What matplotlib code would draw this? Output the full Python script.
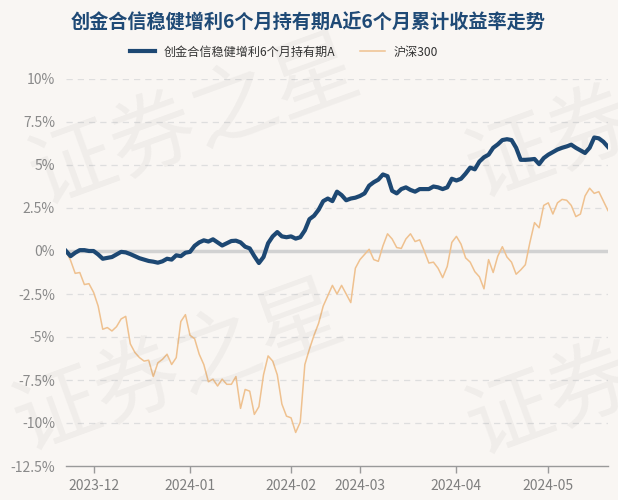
import pandas as pd
import numpy as np
import matplotlib
matplotlib.use('Agg')
import matplotlib.pyplot as plt

plt.rcParams['font.family'] = ['Noto Sans CJK SC', 'DejaVu Sans']

# 交易日 (2023-11-23 ~ 2024-05-23, 去掉节假日)
holidays = ['2024-01-01', '2024-02-09', '2024-02-12', '2024-02-13', '2024-02-14',
            '2024-02-15', '2024-02-16', '2024-04-04', '2024-04-05',
            '2024-05-01', '2024-05-02', '2024-05-03']
dates = pd.bdate_range('2023-11-23', '2024-05-23').difference(pd.to_datetime(holidays))

fund_name = '创金合信稳健增利6个月持有期A'
index_name = '沪深300'

# 累计收益率 (%)
fund = [0.0, -0.3, -0.1, 0.05, 0.05, 0.0, 0.0, -0.2, -0.45, -0.4,
        -0.35, -0.2, -0.05, -0.08, -0.18, -0.3, -0.42, -0.5, -0.58, -0.62,
        -0.68, -0.6, -0.45, -0.5, -0.25, -0.3, -0.1, -0.05, 0.3, 0.5,
        0.62, 0.55, 0.68, 0.5, 0.32, 0.45, 0.58, 0.6, 0.5, 0.25,
        0.15, -0.3, -0.7, -0.35, 0.45, 0.85, 1.1, 0.85, 0.8, 0.85,
        0.72, 0.8, 1.2, 1.85, 2.05, 2.4, 2.9, 3.05, 2.9, 3.45,
        3.25, 2.95, 3.05, 3.1, 3.2, 3.35, 3.8, 4.0, 4.15, 4.45,
        4.35, 3.5, 3.35, 3.6, 3.7, 3.55, 3.45, 3.6, 3.6, 3.6,
        3.75, 3.7, 3.6, 3.7, 4.2, 4.1, 4.2, 4.5, 4.85, 4.75,
        5.2, 5.45, 5.6, 6.0, 6.2, 6.45, 6.5, 6.45, 6.0, 5.3,
        5.3, 5.32, 5.35, 5.05, 5.4, 5.6, 5.75, 5.9, 6.0, 6.08,
        6.18, 6.0, 5.85, 5.7, 6.0, 6.6, 6.55, 6.35, 6.05]

hs300 = [0.0, -0.55, -1.3, -1.25, -1.95, -1.9, -2.4, -3.2, -4.55, -4.45,
         -4.65, -4.4, -3.95, -3.8, -5.4, -5.9, -6.2, -6.4, -6.35, -7.3,
         -6.5, -6.3, -6.0, -6.6, -6.2, -4.1, -3.7, -4.9, -5.1, -6.0,
         -6.6, -7.6, -7.45, -7.85, -7.45, -7.75, -7.75, -7.3, -9.15, -8.05,
         -8.15, -9.5, -9.05, -7.2, -6.1, -6.4, -7.2, -8.9, -9.6, -9.7,
         -10.55, -9.95, -6.6, -5.7, -4.9, -4.2, -3.2, -2.6, -2.0, -2.5,
         -2.0, -2.5, -3.0, -1.0, -0.5, -0.2, 0.1, -0.5, -0.6, 0.3,
         1.0, 0.7, 0.2, 0.15, 0.7, 1.0, 0.55, 0.65, 0.0, -0.7,
         -0.65, -1.0, -1.55, -0.9, 0.5, 0.85, 0.4, -0.4, -0.65, -1.2,
         -1.5, -2.2, -0.5, -1.25, -0.3, 0.25, -0.35, -0.65, -1.35, -1.1,
         -0.8, 0.5, 1.65, 1.35, 2.65, 2.8, 2.15, 2.8, 3.0, 2.95,
         2.65, 2.0, 2.15, 3.2, 3.65, 3.35, 3.45, 2.9, 2.35]

y_ticks = [10, 7.5, 5, 2.5, 0, -2.5, -5, -7.5, -10, -12.5]

bg = '#f9f6f3'
fund_color = '#1d4873'
hs_color = '#efc18f'

x = np.arange(len(dates))

fig = plt.figure(figsize=(6.18, 5.0), dpi=100, facecolor=bg)
ax = fig.add_axes([66 / 618, 34 / 500, 542 / 618, 387 / 500])
ax.set_facecolor(bg)

# 水印 (右侧只露出一部分)
for wx, wy, txt in [(33, 182, '证券之星'), (17, 428, '证券之星'),
                    (470, 175, '证券'), (470, 432, '证券')]:
    fig.text(wx / 618, 1 - wy / 500, txt, fontsize=62, color='#000000', alpha=0.038,
             rotation=20, rotation_mode='anchor', ha='left', va='center', zorder=0,
             clip_on=True)

for t in y_ticks:
    if t == 0:
        ax.axhline(0, color='#d2d2d2', lw=2.5, zorder=1)
    elif t != -12.5:
        ax.axhline(t, color='#dedede', lw=0.9, ls=(0, (5, 4)), zorder=1)

ax.plot(x, hs300, color=hs_color, lw=1.1, label=index_name, zorder=2)
ax.plot(x, fund, color=fund_color, lw=3, label=fund_name, zorder=3)

ax.set_xlim(0, len(dates) - 1)
ax.set_ylim(-12.5, 10)
ax.set_yticks(y_ticks)
ax.set_yticklabels([f'{t:g}%' for t in y_ticks])

months = pd.Series(dates.to_period('M'))
first_idx = [i for i in range(1, len(dates)) if months[i] != months[i - 1]]
ax.set_xticks(first_idx)
ax.set_xticklabels([dates[i].strftime('%Y-%m') for i in first_idx])

for s in ['top', 'right', 'left']:
    ax.spines[s].set_visible(False)
ax.spines['bottom'].set_color('#9a9a9a')
ax.spines['bottom'].set_linewidth(1)
ax.tick_params(axis='x', colors='#9a9a9a', length=5, width=1, labelcolor='#7f7f7f',
               labelsize=10, pad=4)
ax.tick_params(axis='y', length=0, labelcolor='#8a8a8a', labelsize=10, pad=8)

fig.text(308 / 618, 1 - 22 / 500, f'{fund_name}近6个月累计收益率走势', ha='center', va='center',
         fontsize=13.8, fontweight='bold', color='#1f4a76')

handles, labels = ax.get_legend_handles_labels()
fig.legend(handles[::-1], labels[::-1], loc='center', bbox_to_anchor=(284 / 618, 1 - 52 / 500),
           ncol=2, frameon=False, fontsize=8.7, handlelength=2.1, handletextpad=0.7,
           columnspacing=2.0, labelcolor='#333333')

fig.savefig('out.png', dpi=100, facecolor=bg)
